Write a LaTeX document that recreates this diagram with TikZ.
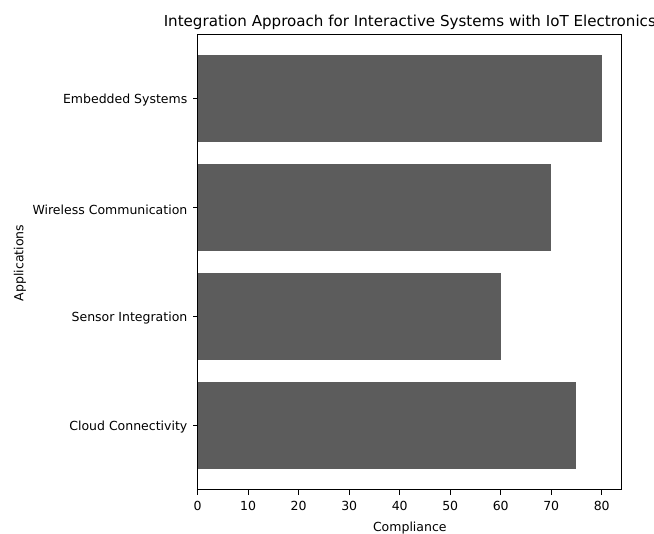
\documentclass[tikz,border=0pt]{standalone}
\usepackage{fontspec}
\setmainfont{DejaVu Sans}
\usetikzlibrary{positioning}
\definecolor{barfill}{RGB}{92,92,92}
\tikzset{bar/.style={fill=barfill,draw=none},
    frame/.style={line width=1.1pt,draw=black},
    tickmark/.style={line width=1.1pt},
    ticklabel/.style={font=\fontsize{12.5}{15}\selectfont,inner sep=0pt},
    axislabel/.style={font=\fontsize{12.5}{15}\selectfont,inner sep=0pt},
    charttitle/.style={font=\fontsize{15.1}{18}\selectfont,inner sep=0pt}
}

\begin{document}
\begin{tikzpicture}[x=1pt,y=1pt]
	\useasboundingbox (0,0) rectangle (654,534);
	\node[charttitle,anchor=base] (title) at (409.8,507.5) {Integration Approach for Interactive Systems with IoT Electronics};
	\begin{scope}[shift={(197.7,108.5)},x=5.05pt,y=109pt]
		% bars
		\fill[bar] (0,-0.4) rectangle (75,0.4);
		\fill[bar] (0,0.6) rectangle (60,1.4);
		\fill[bar] (0,1.6) rectangle (70,2.4);
		\fill[bar] (0,2.6) rectangle (80,3.4);
		\draw[frame] (0,-0.59) rectangle (84,3.59);
		% ticks
		\foreach \v in {0,10,...,80}
			\draw[tickmark] (\v,-0.59) -- ++(0,-4.9pt) node[ticklabel,below=5.8pt] (xt\v) {\v};
		\foreach \y/\name in {0/Cloud Connectivity,1/Sensor Integration,2/Wireless Communication,3/Embedded Systems}
			\draw[tickmark] (0,\y) -- ++(-4.9pt,0) node[ticklabel,left=4.9pt,yshift=-2pt] (yt\y) {\name};
	\end{scope}
	\node[axislabel] (xlabel) at (409.8,6) {Compliance};
	\node[axislabel,rotate=90] (ylabel) at (20,271) {Applications};
\end{tikzpicture}
\end{document}
